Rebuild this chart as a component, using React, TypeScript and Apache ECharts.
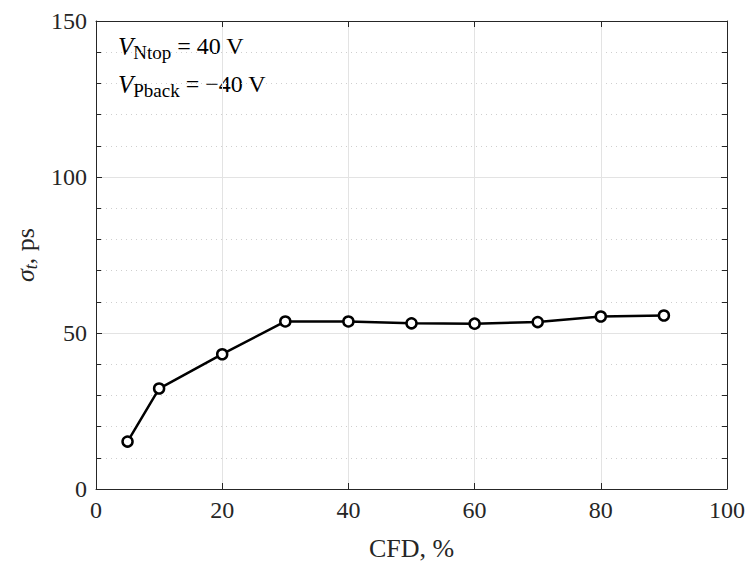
import React, { useEffect, useRef } from "react";
import * as echarts from "echarts";

const cfd = [5, 10, 20, 30, 40, 50, 60, 70, 80, 90];
const sigmaT = [15.2, 32.2, 43.2, 53.7, 53.7, 53.1, 53.0, 53.5, 55.3, 55.6];
const xTicks = [0, 20, 40, 60, 80, 100];
const yTicks = [0, 50, 100, 150];

const FONT = "'Liberation Serif', 'DejaVu Serif', serif";
const INK = "#262626";

const mkLine = () => ({ show: true, onZero: false, lineStyle: { color: INK, width: 1 } });
const mkTick = () => ({ show: true, inside: true, length: 6, lineStyle: { color: INK, width: 1 } });
const mkMinor = () => ({ show: true, splitNumber: 5, length: 5, lineStyle: { color: INK, width: 1 } });

export default function App() {
  const ref = useRef<HTMLDivElement>(null);
  useEffect(() => {
    if (!ref.current) return;
    const chart = echarts.init(ref.current, undefined, { renderer: "svg" });
    chart.setOption({
      animation: false,
      backgroundColor: "#ffffff",
      grid: { left: 96, right: 23, top: 21, bottom: 73, containLabel: false },
      xAxis: [
        {
          type: "value",
          position: "bottom",
          min: xTicks[0],
          max: xTicks[xTicks.length - 1],
          interval: 20,
          axisLine: mkLine(),
          axisTick: mkTick(),
          axisLabel: { color: INK, fontFamily: FONT, fontSize: 24, margin: 9 },
          splitLine: { show: true, lineStyle: { color: "#e3e3e3", width: 1 } },
          name: "CFD, %",
          nameLocation: "middle",
          nameGap: 46,
          nameTextStyle: { color: INK, fontFamily: FONT, fontSize: 26 },
        },
        {
          type: "value",
          position: "top",
          min: 0,
          max: 100,
          interval: 20,
          axisLine: mkLine(),
          axisTick: mkTick(),
          axisLabel: { show: false },
          splitLine: { show: false },
        },
      ],
      yAxis: [
        {
          type: "value",
          position: "left",
          min: yTicks[0],
          max: yTicks[yTicks.length - 1],
          interval: 50,
          axisLine: mkLine(),
          axisTick: mkTick(),
          minorTick: mkMinor(),
          minorSplitLine: { show: true, lineStyle: { color: "#cfcfcf", type: [1, 4], width: 1 } },
          axisLabel: { color: INK, fontFamily: FONT, fontSize: 24, margin: 9 },
          splitLine: { show: true, lineStyle: { color: "#e3e3e3", width: 1 } },
          name: "{s|σ}{sub|t}{n|, ps}",
          nameLocation: "middle",
          nameGap: 56,
          nameRotate: 90,
          nameTextStyle: {
            rich: {
              s: { fontFamily: FONT, fontSize: 26, fontStyle: "italic", color: INK },
              sub: { fontFamily: FONT, fontSize: 18, fontStyle: "italic", color: INK, padding: [12, 0, 0, 0] },
              n: { fontFamily: FONT, fontSize: 26, color: INK },
            },
          },
        },
        {
          type: "value",
          position: "right",
          min: 0,
          max: 150,
          interval: 50,
          axisLine: mkLine(),
          axisTick: mkTick(),
          minorTick: mkMinor(),
          axisLabel: { show: false },
          splitLine: { show: false },
        },
      ],
      graphic: [
        {
          type: "text",
          left: 118,
          top: 30,
          style: {
            text: "{v|V}{sub|Ntop}{n| = 40 V}\n{v|V}{sub|Pback}{n| = −40 V}",
            rich: {
              v: { fontFamily: FONT, fontSize: 25, fontStyle: "italic", fill: "#000", lineHeight: 38 },
              sub: { fontFamily: FONT, fontSize: 19, fill: "#000", padding: [13, 0, 0, 0], lineHeight: 38 },
              n: { fontFamily: FONT, fontSize: 24, fill: "#000", lineHeight: 38 },
            },
          },
        },
      ],
      series: [
        {
          type: "line",
          data: cfd.map((c, i) => [c, sigmaT[i]]),
          xAxisIndex: 0,
          yAxisIndex: 0,
          lineStyle: { color: "#000", width: 2.5 },
          symbol: "circle",
          symbolSize: 10,
          itemStyle: { color: "#fff", borderColor: "#000", borderWidth: 2.5 },
        },
      ],
    });
    return () => chart.dispose();
  }, []);
  return (
    <div
      ref={ref}
      style={{ position: "fixed", left: 0, top: 0, width: 750, height: 566 }}
    />
  );
}
